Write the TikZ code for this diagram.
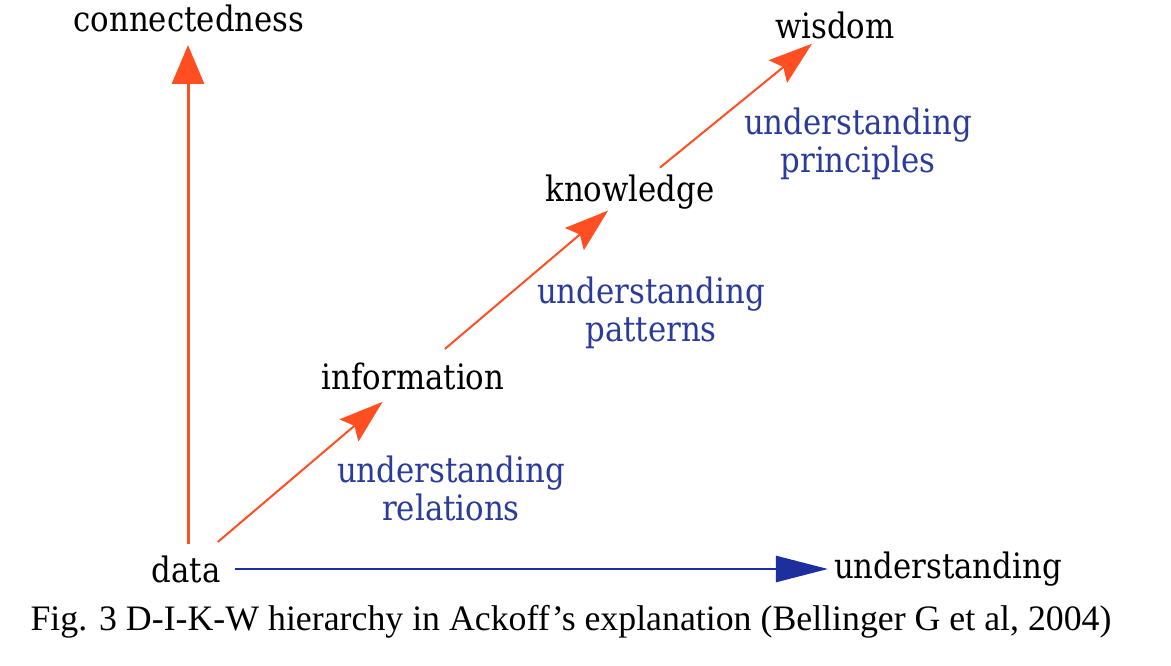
\documentclass[tikz,border=0pt]{standalone}
\usepackage{fontspec}
\setmainfont{DejaVu Serif}[FakeStretch=0.88]
\newfontfamily\capfont{Liberation Serif}
\usetikzlibrary{arrows.meta,calc}
\definecolor{dikwor}{HTML}{FF4F22}
\definecolor{dikwbl}{HTML}{1C2F9C}
\definecolor{dikwtx}{HTML}{2B3B9B}
\tikzset{
  lbl/.style={font=\fontsize{35}{38}\selectfont, text=black, inner sep=0pt},
  blbl/.style={font=\fontsize{35}{38}\selectfont, text=dikwtx, align=center, inner sep=0pt},
  uparr/.style={draw=dikwor, line width=3pt, -{Triangle[length=39pt,width=32pt]}},
  diagarr/.style={draw=dikwor, line width=2pt, -{Stealth[length=44pt,width=29pt,inset=7pt]}},
  horarr/.style={draw=dikwbl, line width=2.5pt, -{Triangle[length=52pt,width=26pt]}},
}
\begin{document}
\begin{tikzpicture}[x=1pt,y=-1pt]
\useasboundingbox[fill=white] (0,0) rectangle (1171,666);
\node[lbl] (conn) at (189,18) {connectedness};
\node[lbl] (wis) at (835,25) {wisdom};
\node[lbl] (know) at (630,192) {knowledge};
\node[lbl] (info) at (413,376) {information};
\node[lbl] (data) at (186,569) {data};
\node[lbl] (und) at (948,569) {understanding};
\node[blbl] (uprin) at (858,144) {understanding\\principles};
\node[blbl] (upat) at (651,313) {understanding\\patterns};
\node[blbl] (urel) at (451,488) {understanding\\relations};
\draw[uparr] ([xshift=-1pt,yshift=11pt]conn.center |- data.north) -- ([xshift=-1pt,yshift=-27pt]conn.center);
\draw[diagarr] ($(data)!0.14!(info)$) -- ($(data)!0.866!(info)$);
\draw[diagarr] ($(info)!0.147!(know)$) -- ($(info)!0.899!(know)$);
\draw[diagarr] ($(know)!0.146!(wis)$) -- ($(know)!0.888!(wis)$);
\draw[horarr] ($(data)!0.0643!(und)$) -- ($(data)!0.8425!(und)$);
\node[font=\capfont\fontsize{35.8}{40}\selectfont, inner sep=0pt] (cap) at (571,622) {Fig. 3 D-I-K-W hierarchy in Ackoff’s explanation (Bellinger G et al, 2004)};
\end{tikzpicture}
\end{document}
